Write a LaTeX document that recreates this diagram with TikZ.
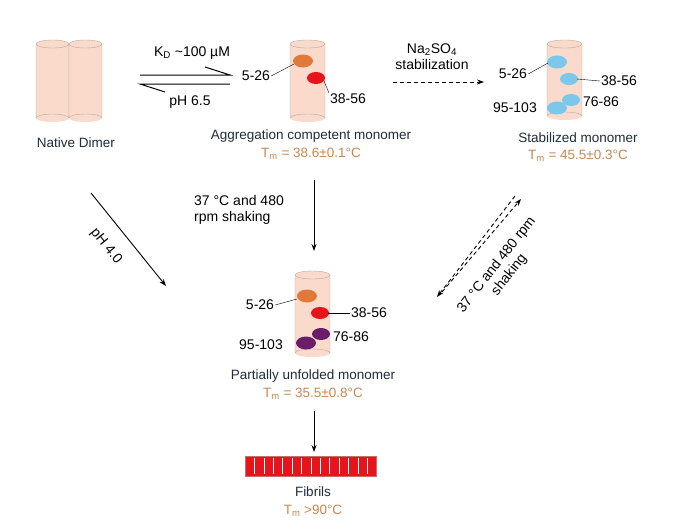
\documentclass[tikz,border=0pt]{standalone}
\usepackage{fontspec}
\setmainfont{Liberation Sans}
\usetikzlibrary{arrows.meta}
\definecolor{cylf}{HTML}{FADBCB}
\definecolor{cyls}{HTML}{B8A8A0}
\definecolor{navy}{HTML}{1E2C3C}
\definecolor{tmc}{HTML}{C98650}
\definecolor{org}{HTML}{E07A3A}
\definecolor{rd}{HTML}{E8141C}
\definecolor{pur}{HTML}{6A1E6A}
\definecolor{blu}{HTML}{7CC8EC}
\begin{document}
\begin{tikzpicture}[x=1pt,y=-1pt,
  lbl/.style={font=\fontsize{14}{16}\selectfont,text=black,inner sep=1pt},
  captxt/.style={font=\fontsize{13.5}{15}\selectfont,text=navy,inner sep=0pt},
  tm/.style={font=\fontsize{13.5}{15}\selectfont,text=tmc,inner sep=0pt},
  arr/.style={-{Stealth[length=7pt,width=5pt]},line width=0.9pt},
  darr/.style={arr,dash pattern=on 4pt off 3pt}]
\useasboundingbox (0,0) rectangle (675,528);
\newcommand\cyl[4]{%
 \fill[cylf] (#1,#2) rectangle (#1+#3,#2+#4);
 \fill[cylf] (#1+#3/2,#2+#4) ellipse[x radius=#3/2,y radius=4];
 \draw[cyls,fill=cylf] (#1+#3/2,#2) ellipse[x radius=#3/2,y radius=4];
 \draw[cyls] (#1,#2) -- (#1,#2+#4) arc[start angle=180,end angle=360,x radius=#3/2,y radius=4] -- (#1+#3,#2);}
% cylinders
\cyl{36}{44}{33}{74}
\cyl{69}{44}{33}{74}
\cyl{290}{44}{35}{74}
\cyl{547}{44}{35}{72}
\cyl{295}{275}{35}{78}
% monomer 1
\fill[org] (303,61) ellipse[x radius=10,y radius=6.5];
\fill[rd] (316,78) ellipse[x radius=9,y radius=6];
\node[lbl] (l1) at (256,76) {5-26};
\node[lbl] (l2) at (348,99) {38-56};
\draw (l1.east) -- (294,64);
\draw (l2.north west) -- (324,81);
% stabilized
\fill[blu] (557,62) ellipse[x radius=10,y radius=6.5];
\fill[blu] (569,79) ellipse[x radius=9,y radius=6];
\fill[blu] (571,100) ellipse[x radius=9,y radius=6];
\fill[blu] (557,108) ellipse[x radius=10,y radius=6.5];
\node[lbl] (s1) at (513,74) {5-26};
\node[lbl] (s2) at (619,81) {38-56};
\node[lbl] (s3) at (601,102) {76-86};
\node[lbl] (s4) at (515,108) {95-103};
\draw (s1.east) -- (548,63);
\draw (s2.west) -- (577,79);
% partially unfolded
\fill[org] (307,296) ellipse[x radius=10,y radius=6.5];
\fill[rd] (320,313) ellipse[x radius=9,y radius=6];
\fill[pur] (321,334) ellipse[x radius=9,y radius=6];
\fill[pur] (306,343) ellipse[x radius=10,y radius=6.5];
\node[lbl] (p1) at (260,305) {5-26};
\node[lbl] (p2) at (369,313) {38-56};
\node[lbl] (p3) at (351,337) {76-86};
\node[lbl] (p4) at (261,345) {95-103};
\draw (p1.east) -- (297,299);
\draw (p2.west) -- (328,313);
% fibrils
\fill[rd] (245,456) rectangle (376,476);
\draw[cyls!60!rd] (245,456) rectangle (376,476);
\foreach \i in {1,...,13} \draw[white,line width=0.6pt] (245+\i*9.4,458) -- (245+\i*9.4,474);
% captions
\node[captxt] (c1) at (76,143) {Native Dimer};
\node[captxt] (c2) at (311,136) {Aggregation competent monomer};
\node[tm] (t2) at (311,154) {T\textsubscript{m} = 38.6±0.1°C};
\node[captxt] (c3) at (578,138) {Stabilized monomer};
\node[tm] (t3) at (578,156) {T\textsubscript{m} = 45.5±0.3°C};
\node[captxt] (c4) at (313,376) {Partially unfolded monomer};
\node[tm] (t4) at (313,394) {T\textsubscript{m} = 35.5±0.8°C};
\node[captxt] (c5) at (313,492) {Fibrils};
\node[tm] (t5) at (313,511) {T\textsubscript{m} >90°C};
% equilibrium
\coordinate (e1) at (140,75); \coordinate (e2) at (230,75);
\coordinate (e3) at (230,84); \coordinate (e4) at (140,84);
\draw[line width=1pt] (e1) -- (e2) -- (205,67);
\draw[line width=1pt] (e3) -- (e4) -- (165,92);
\node[lbl] (kd) at (192,53) {K\textsubscript{D} \textasciitilde100 µM};
\node[lbl] (ph) at (190,102) {pH 6.5};
% Na2SO4
\coordinate (n1) at (393,82); \coordinate (n2) at (484,82);
\draw[darr] (n1) -- (n2);
\node[lbl,align=center] (na) at (432,57) {Na\textsubscript{2}SO\textsubscript{4}\\stabilization};
% 37C down
\coordinate (d1) at (314,180); \coordinate (d2) at (314,251);
\draw[arr] (d1) -- (d2);
\node[lbl,align=left,anchor=west] (dl) at (193,210) {37 °C and 480\\rpm shaking};
% pH 4
\coordinate (q1) at (91,193); \coordinate (q2) at (166,286);
\draw[arr] (q1) -- (q2);
\node[lbl,rotate=-51] (q) at (106,246) {pH 4.0};
% double dashed
\coordinate (r1) at (442,292); \coordinate (r2) at (521,199);
\coordinate (r3) at (515,196); \coordinate (r4) at (437,297);
\draw[darr] (r1) -- (r2);
\draw[darr] (r3) -- (r4);
\node[lbl,rotate=52,align=center] (rl) at (503,270) {37 °C and 480 rpm\\shaking};
% fibril arrow
\coordinate (f1) at (314,411); \coordinate (f2) at (314,452);
\draw[arr] (f1) -- (f2);
\end{tikzpicture}
\end{document}
